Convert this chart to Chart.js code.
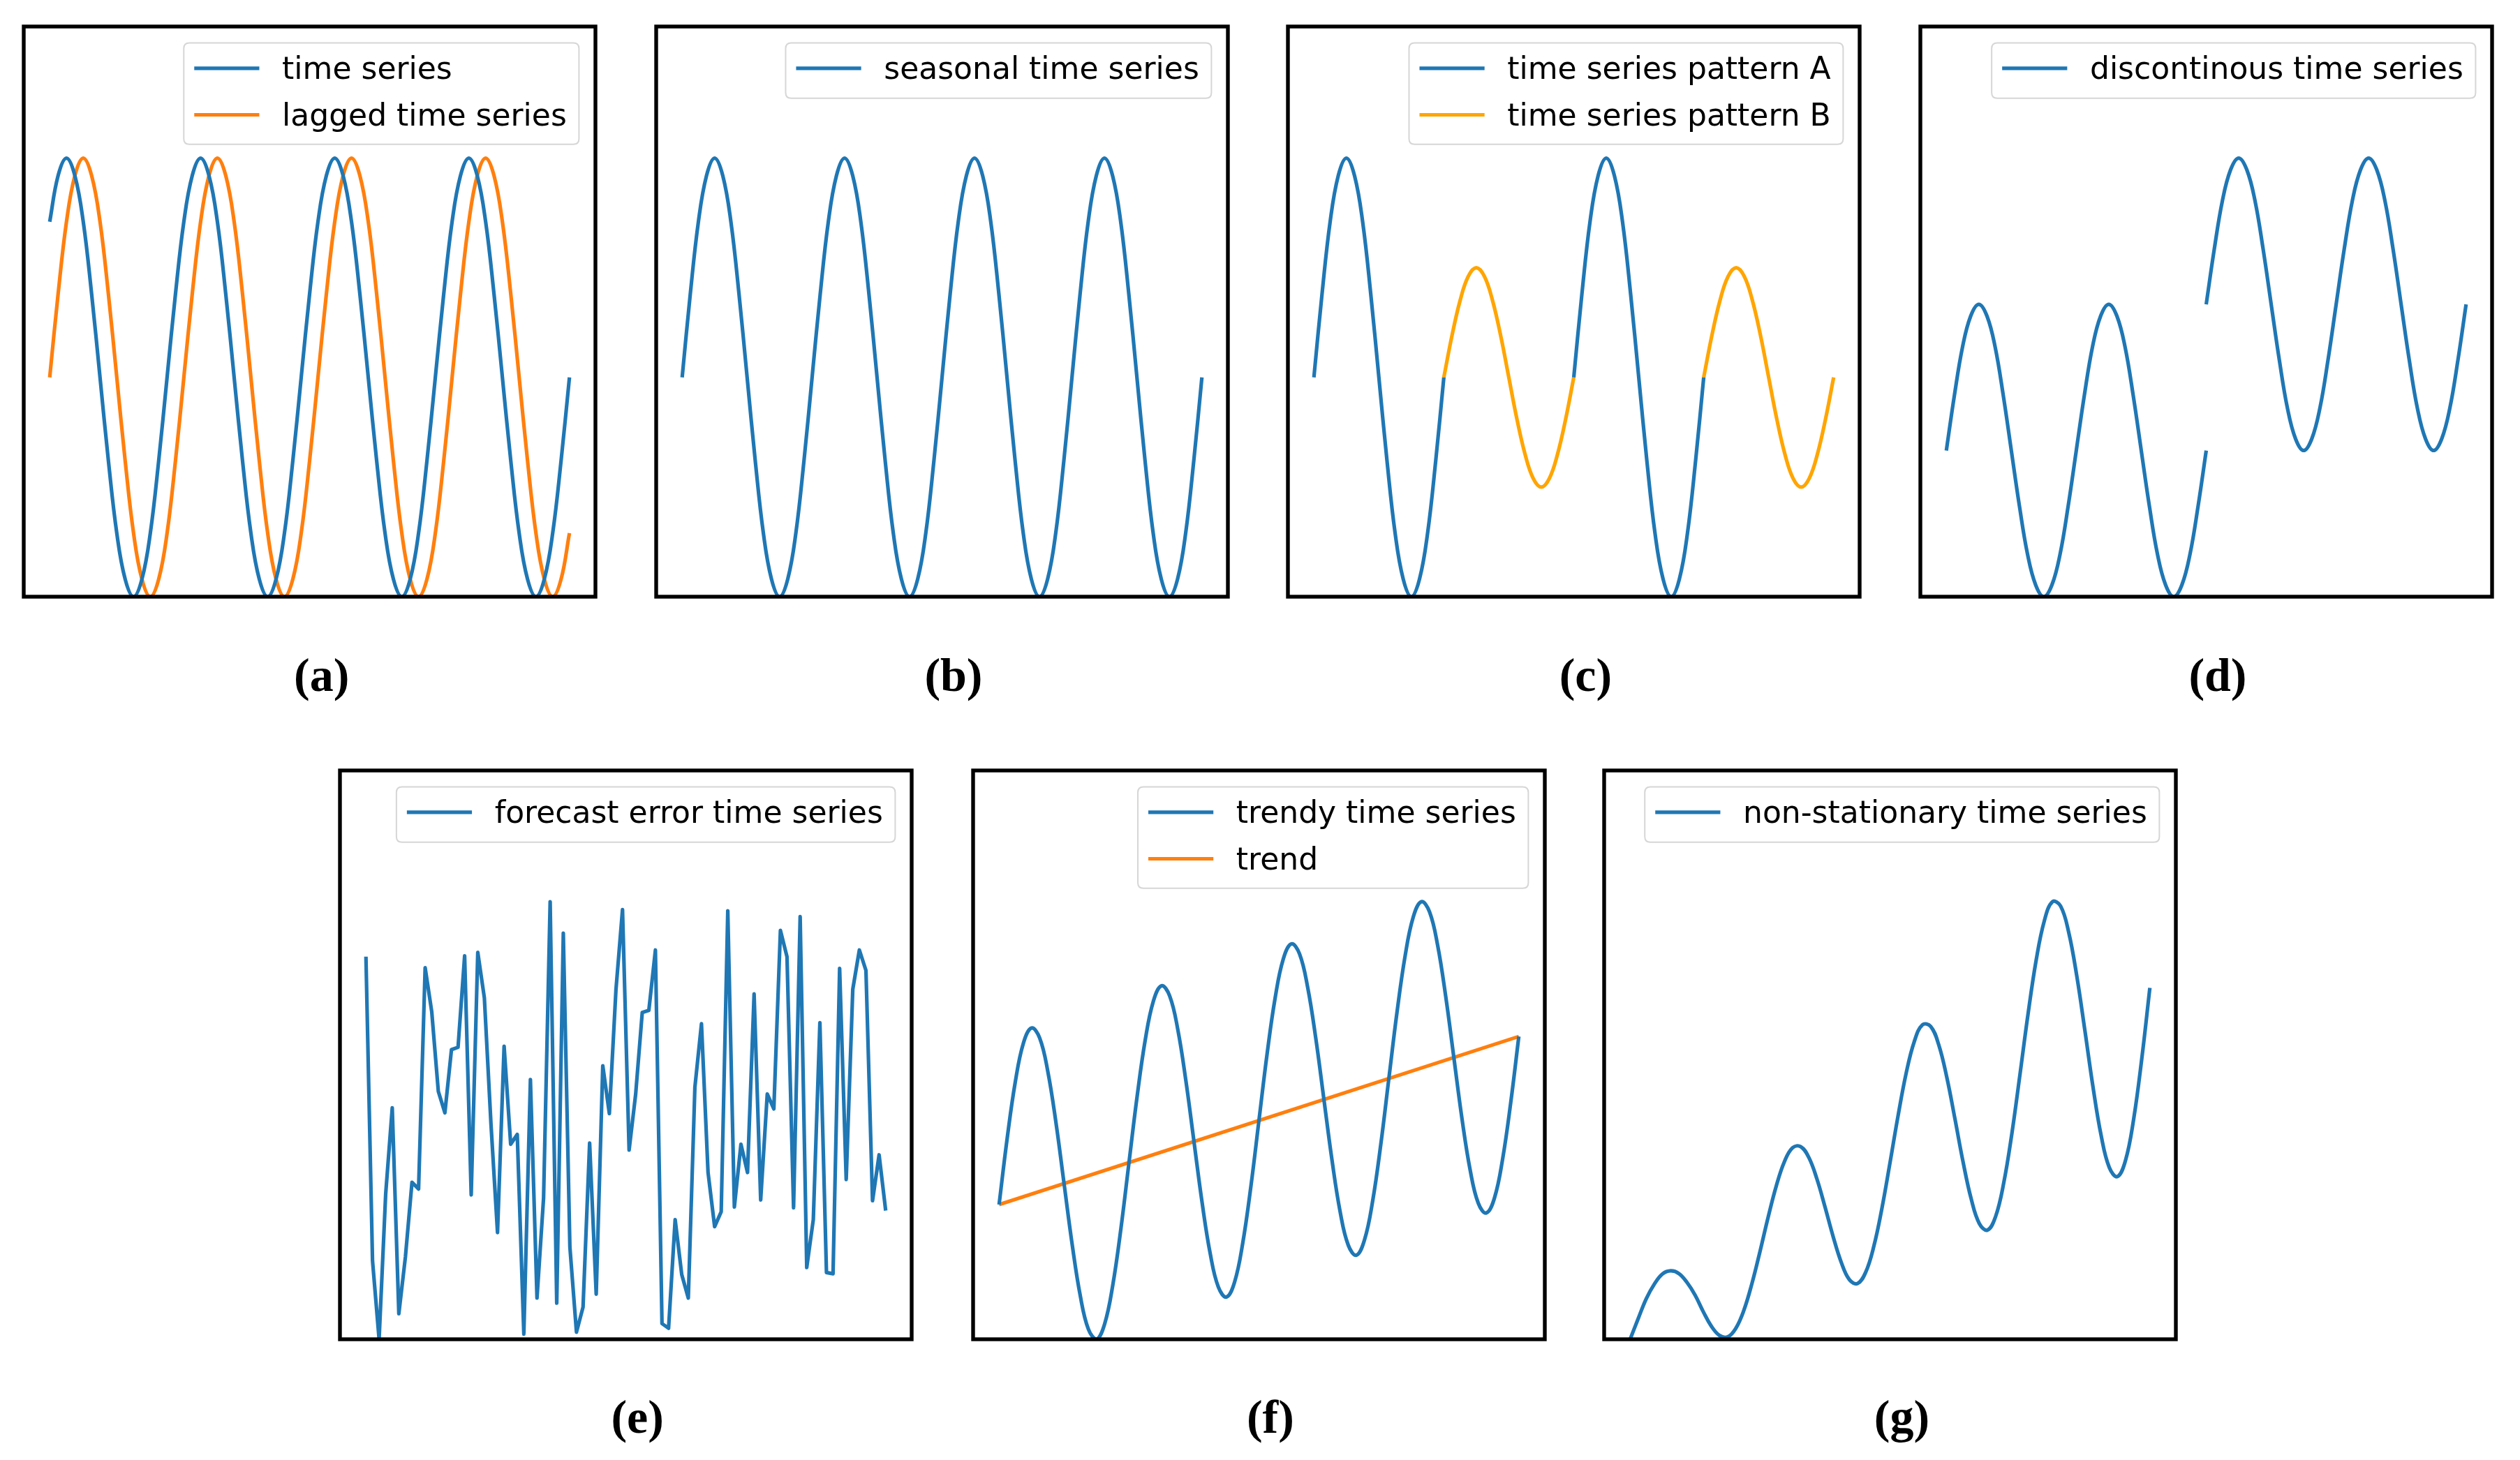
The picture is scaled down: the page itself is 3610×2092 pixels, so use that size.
<!DOCTYPE html>
<html>
<head>
<meta charset="utf-8">
<script src="https://cdn.jsdelivr.net/npm/chart.js@4.4.1/dist/chart.umd.min.js"></script>
<style>
  html, body { margin: 0; padding: 0; background: #ffffff; }
  body { width: 3610px; height: 2092px; position: relative; overflow: hidden; }
  canvas { position: absolute; }
  .lbl { position: absolute; width: 240px; text-align: center; font-family: "Liberation Serif", "Times New Roman", serif;
         font-weight: bold; font-size: 68px; line-height: 68px; color: #000; }
</style>
</head>
<body>
<script>
// ---------------- DATA ----------------
// (a) time series and its lagged copy (unit amplitude)
const timeSeriesA = [0.71, 0.92, 1, 0.92, 0.71, 0.38, 0, -0.38, -0.71, -0.92, -1, -0.92, -0.71, -0.38, 0, 0.38,
  0.71, 0.92, 1, 0.92, 0.71, 0.38, 0, -0.38, -0.71, -0.92, -1, -0.92, -0.71, -0.38, 0, 0.38,
  0.71, 0.92, 1, 0.92, 0.71, 0.38, 0, -0.38, -0.71, -0.92, -1, -0.92, -0.71, -0.38, 0, 0.38,
  0.71, 0.92, 1, 0.92, 0.71, 0.38, 0, -0.38, -0.71, -0.92, -1, -0.92, -0.71, -0.38, 0];
const laggedSeriesA = [0, 0.38, 0.71, 0.92, 1, 0.92, 0.71, 0.38, 0, -0.38, -0.71, -0.92, -1, -0.92, -0.71, -0.38,
  0, 0.38, 0.71, 0.92, 1, 0.92, 0.71, 0.38, 0, -0.38, -0.71, -0.92, -1, -0.92, -0.71, -0.38,
  0, 0.38, 0.71, 0.92, 1, 0.92, 0.71, 0.38, 0, -0.38, -0.71, -0.92, -1, -0.92, -0.71, -0.38,
  0, 0.38, 0.71, 0.92, 1, 0.92, 0.71, 0.38, 0, -0.38, -0.71, -0.92, -1, -0.92, -0.71];
// (b) seasonal
const seasonalB = [0, 0.38, 0.71, 0.92, 1, 0.92, 0.71, 0.38, 0, -0.38, -0.71, -0.92, -1, -0.92, -0.71, -0.38,
  0, 0.38, 0.71, 0.92, 1, 0.92, 0.71, 0.38, 0, -0.38, -0.71, -0.92, -1, -0.92, -0.71, -0.38,
  0, 0.38, 0.71, 0.92, 1, 0.92, 0.71, 0.38, 0, -0.38, -0.71, -0.92, -1, -0.92, -0.71, -0.38,
  0, 0.38, 0.71, 0.92, 1, 0.92, 0.71, 0.38, 0, -0.38, -0.71, -0.92, -1, -0.92, -0.71, -0.38, 0];
// (c) patterns A and B (null = not part of this pattern)
const patternA = [0, 0.38, 0.71, 0.92, 1, 0.92, 0.71, 0.38, 0, -0.38, -0.71, -0.92, -1, -0.92, -0.71, -0.38, 0,
  null, null, null, null, null, null, null, null, null, null, null, null, null, null, null,
  0, 0.38, 0.71, 0.92, 1, 0.92, 0.71, 0.38, 0, -0.38, -0.71, -0.92, -1, -0.92, -0.71, -0.38, 0,
  null, null, null, null, null, null, null, null, null, null, null, null, null, null, null, null];
const patternB = [null, null, null, null, null, null, null, null, null, null, null, null, null, null, null, null,
  0, 0.19, 0.35, 0.46, 0.5, 0.46, 0.35, 0.19, 0, -0.19, -0.35, -0.46, -0.5, -0.46, -0.35, -0.19, 0,
  null, null, null, null, null, null, null, null, null, null, null, null, null, null, null,
  0, 0.19, 0.35, 0.46, 0.5, 0.46, 0.35, 0.19, 0, -0.19, -0.35, -0.46, -0.5, -0.46, -0.35, -0.19, 0];
// (d) discontinuous: first half and shifted second half
const discontFirst = [0, 0.38, 0.71, 0.92, 1, 0.92, 0.71, 0.38, 0, -0.38, -0.71, -0.92, -1, -0.92, -0.71, -0.38,
  0, 0.38, 0.71, 0.92, 1, 0.92, 0.71, 0.38, 0, -0.38, -0.71, -0.92, -1, -0.92, -0.71, -0.38, 0];
const discontSecond = [1, 1.38, 1.71, 1.92, 2, 1.92, 1.71, 1.38, 1, 0.62, 0.29, 0.08, 0, 0.08, 0.29, 0.62,
  1, 1.38, 1.71, 1.92, 2, 1.92, 1.71, 1.38, 1, 0.62, 0.29, 0.08, 0, 0.08, 0.29, 0.62, 1];
const discontSecondStart = 32;
// (e) forecast error
const forecastError = [98.0, 20.5, 0.5, 37.5, 59.5, 7.0, 21.5, 40.5, 38.8, 95.2, 84.0, 63.7, 58.2, 74.3, 74.9, 98.2,
  37.3, 99.1, 87.5, 55.5, 27.7, 75.2, 50.2, 52.7, 1.8, 66.7, 11.0, 36.5, 112.0, 9.7, 104.0, 24.0,
  2.3, 8.7, 50.5, 12.0, 70.2, 58.0, 89.5, 110.0, 48.7, 63.0, 83.8, 84.3, 99.7, 4.5, 3.3, 31.0,
  17.0, 11.0, 64.7, 80.9, 43.0, 29.2, 33.0, 109.7, 34.2, 50.2, 43.0, 88.5, 36.0, 63.0, 59.2, 104.7,
  98.0, 34.0, 108.2, 18.8, 31.0, 81.2, 17.5, 17.2, 95.0, 41.2, 89.7, 99.7, 94.5, 35.8, 47.5, 33.3];
// (f) trendy series and its trend line
const trendySeries = [354, 527, 674, 775, 814, 788, 701, 568, 409, 250, 116, 29, 3, 43, 144, 291,
  464, 636, 783, 884, 924, 898, 811, 677, 518, 359, 226, 139, 113, 152, 253, 400,
  573, 746, 893, 994, 1033, 1007, 920, 787, 628, 469, 335, 248, 222, 262, 363, 510,
  683, 855, 1002, 1103, 1143, 1117, 1030, 896, 737, 578, 445, 358, 332, 371, 472, 619, 792];
const trendX = [0, 64];
const trendY = [354, 792];
// (g) non-stationary
const nonStationary = [4, 58, 110, 148, 174, 182, 175, 152, 119, 76, 38, 14, 10, 32, 79, 149,
  233, 322, 403, 466, 502, 505, 477, 421, 348, 271, 204, 159, 149, 178, 245, 344,
  463, 586, 697, 779, 822, 818, 770, 685, 577, 465, 369, 305, 288, 323, 410, 538,
  692, 850, 990, 1092, 1142, 1131, 1063, 949, 807, 660, 534, 451, 427, 469, 576, 733, 918];

const panelLetters = ["(a)", "(b)", "(c)", "(d)", "(e)", "(f)", "(g)"];

// ---------------- STYLE / LAYOUT ----------------
const BLUE = "#1f77b4", ORANGE = "#ff7f0e", GOLD = "#ffa500";
const LINE_W = 5.2, FRAME_W = 5.4, FS = 44, PAD = 14;
const PANEL_W = 818.5;
const panels = [
  { left: 34.4,   top: 38.4,   h: 817.3 },
  { left: 939.7,  top: 38.4,   h: 817.3 },
  { left: 1845.2, top: 38.4,   h: 817.3 },
  { left: 2750.7, top: 38.4,   h: 817.3 },
  { left: 486.9,  top: 1103.5, h: 815 },
  { left: 1393.7, top: 1103.5, h: 815 },
  { left: 2298.2, top: 1103.5, h: 815 }
];
const labelBaselines = [990, 990, 990, 990, 2053, 2053, 2053];

function pts(arr, offset) {
  offset = offset || 0;
  return arr.map((v, i) => ({ x: i + offset, y: v }));
}
function ptsXY(xs, ys) { return xs.map((x, i) => ({ x: x, y: ys[i] })); }

const legendPlugin = {
  id: 'mplLegend',
  afterDatasetsDraw(chart) {
    const ctx = chart.ctx, area = chart.chartArea;
    const items = chart.data.datasets.filter(d => d.label);
    if (!items.length) return;
    ctx.save();
    ctx.font = FS + 'px "DejaVu Sans"';
    let maxW = 0;
    items.forEach(d => { maxW = Math.max(maxW, ctx.measureText(d.label).width); });
    const n = items.length;
    const boxW = 3.6 * FS + maxW;
    const boxH = 0.8 * FS + n * FS + (n - 1) * 0.5 * FS;
    const boxR = area.right - 23.6;
    const boxL = boxR - boxW;
    const boxT = area.top + 23.5;
    const r = 8;
    ctx.beginPath();
    ctx.moveTo(boxL + r, boxT);
    ctx.lineTo(boxR - r, boxT); ctx.quadraticCurveTo(boxR, boxT, boxR, boxT + r);
    ctx.lineTo(boxR, boxT + boxH - r); ctx.quadraticCurveTo(boxR, boxT + boxH, boxR - r, boxT + boxH);
    ctx.lineTo(boxL + r, boxT + boxH); ctx.quadraticCurveTo(boxL, boxT + boxH, boxL, boxT + boxH - r);
    ctx.lineTo(boxL, boxT + r); ctx.quadraticCurveTo(boxL, boxT, boxL + r, boxT);
    ctx.closePath();
    ctx.fillStyle = 'rgba(255,255,255,0.8)';
    ctx.fill();
    ctx.lineWidth = 2;
    ctx.strokeStyle = '#d6d6d6';
    ctx.stroke();
    items.forEach((d, i) => {
      const cy = boxT + 36.3 + i * 66.7;
      const x0 = boxL + 0.4 * FS;
      ctx.beginPath();
      ctx.moveTo(x0, cy);
      ctx.lineTo(x0 + 2 * FS, cy);
      ctx.lineWidth = LINE_W;
      ctx.lineCap = 'square';
      ctx.strokeStyle = d.borderColor;
      ctx.stroke();
      ctx.fillStyle = '#000000';
      ctx.textBaseline = 'alphabetic';
      ctx.textAlign = 'left';
      ctx.fillText(d.label, x0 + 2.8 * FS, cy + 15.3);
    });
    ctx.restore();
  }
};
const framePlugin = {
  id: 'frame',
  afterDraw(chart) {
    const ctx = chart.ctx, a = chart.chartArea;
    ctx.save();
    ctx.lineWidth = FRAME_W;
    ctx.strokeStyle = '#000000';
    ctx.strokeRect(a.left, a.top, a.right - a.left, a.bottom - a.top);
    ctx.restore();
  }
};

function lineDs(label, data, color, smooth) {
  return {
    label: label, data: data, borderColor: color, backgroundColor: color,
    borderWidth: LINE_W, pointRadius: 0, fill: false, spanGaps: false,
    cubicInterpolationMode: 'default', tension: smooth ? 0.4 : 0,
    borderCapStyle: 'butt', borderJoinStyle: 'round'
  };
}

function makePanel(idx, datasets, xLast) {
  const p = panels[idx];
  const c = document.createElement('canvas');
  const cw = Math.round(PANEL_W + 2 * PAD), ch = Math.round(p.h + 2 * PAD);
  c.width = cw;
  c.height = ch;
  c.style.left = (p.left - PAD) + 'px';
  c.style.top = (p.top - PAD) + 'px';
  c.style.width = cw + 'px';
  c.style.height = ch + 'px';
  document.body.appendChild(c);
  let ys = [];
  datasets.forEach(d => d.data.forEach(pt => { if (pt.y !== null) ys.push(pt.y); }));
  const yMin = Math.min(...ys), yMax = Math.max(...ys);
  const mx = 0.05 * xLast;
  new Chart(c, {
    type: 'line',
    data: { datasets: datasets },
    options: {
      responsive: false, animation: false, devicePixelRatio: 1,
      layout: { padding: PAD },
      plugins: { legend: { display: false }, tooltip: { enabled: false } },
      scales: {
        x: { type: 'linear', min: -mx, max: xLast + mx, display: false },
        y: { type: 'linear', min: yMin, max: yMin + 1.3 * (yMax - yMin), display: false }
      }
    },
    plugins: [legendPlugin, framePlugin]
  });
  const lb = document.createElement('div');
  lb.className = 'lbl';
  lb.textContent = panelLetters[idx];
  lb.style.left = (p.left + PANEL_W / 2 + 17 - 120) + 'px';
  lb.style.top = (labelBaselines[idx] - 57) + 'px';
  document.body.appendChild(lb);
}

makePanel(0, [
  lineDs('time series', pts(timeSeriesA), BLUE, true),
  lineDs('lagged time series', pts(laggedSeriesA), ORANGE, true)
], timeSeriesA.length - 1);
makePanel(1, [
  lineDs('seasonal time series', pts(seasonalB), BLUE, true)
], seasonalB.length - 1);
makePanel(2, [
  lineDs('time series pattern A', pts(patternA), BLUE, true),
  lineDs('time series pattern B', pts(patternB), GOLD, true)
], patternA.length - 1);
makePanel(3, [
  lineDs('discontinous time series', pts(discontFirst), BLUE, true),
  lineDs('', pts(discontSecond, discontSecondStart), BLUE, true)
], discontSecondStart + discontSecond.length - 1);
makePanel(4, [
  lineDs('forecast error time series', pts(forecastError), BLUE, false)
], forecastError.length - 1);
makePanel(5, [
  lineDs('trendy time series', pts(trendySeries), BLUE, true),
  lineDs('trend', ptsXY(trendX, trendY), ORANGE, false)
], trendySeries.length - 1);
makePanel(6, [
  lineDs('non-stationary time series', pts(nonStationary), BLUE, true)
], nonStationary.length - 1);
</script>
</body>
</html>
